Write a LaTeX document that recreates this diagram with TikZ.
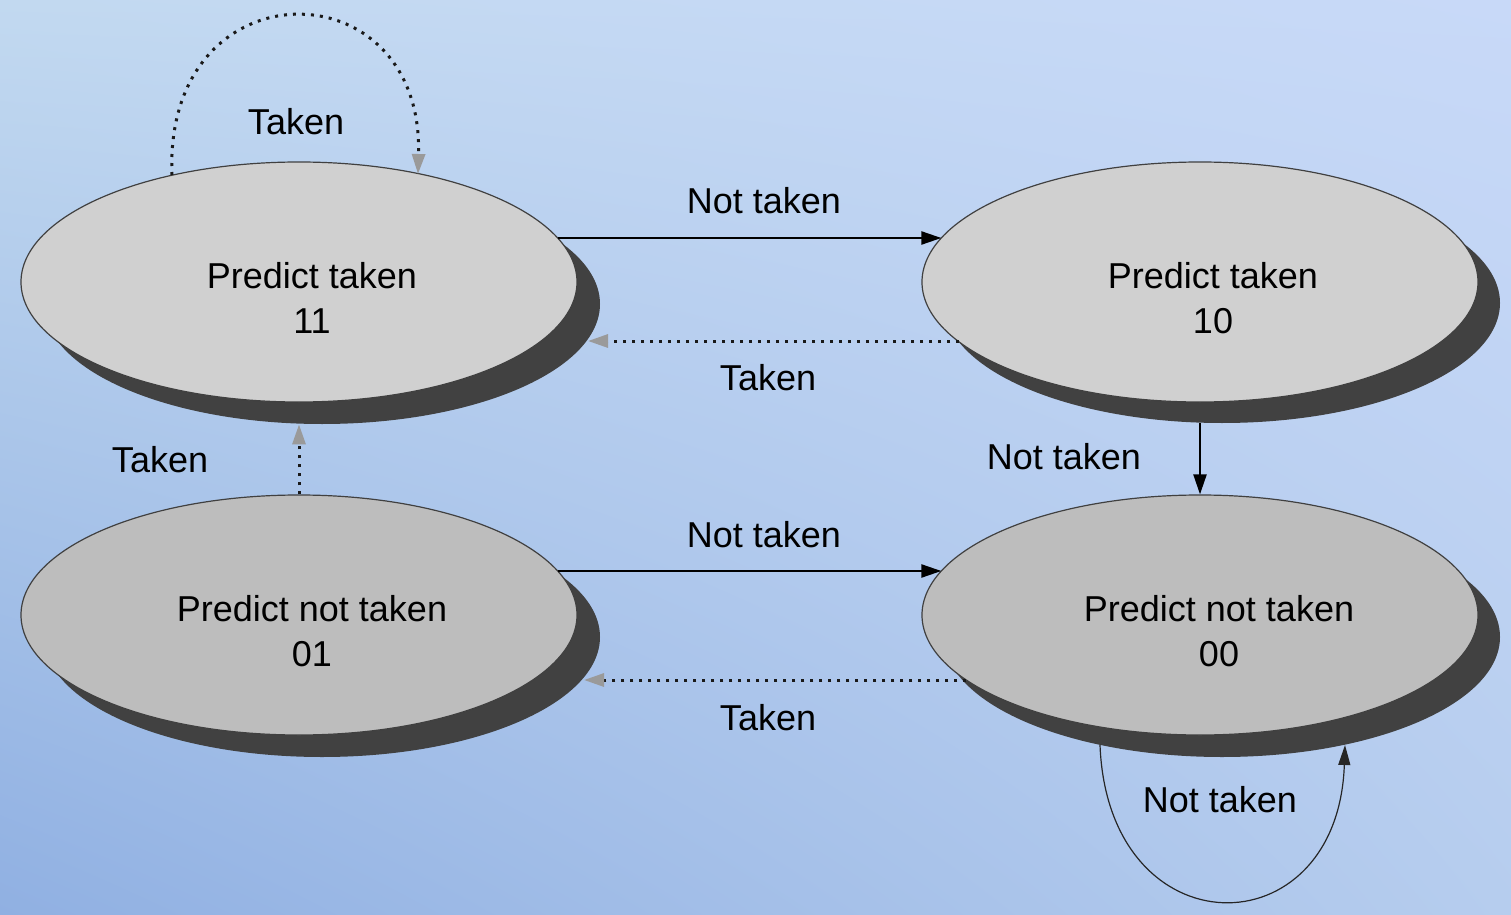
\documentclass[tikz,border=0pt]{standalone}
\usepackage{fontspec}
\setmainfont{Liberation Sans}
\usetikzlibrary{shapes.geometric,arrows.meta,calc,shadings}
\definecolor{bgA}{HTML}{C2D9F0}
\definecolor{bgB}{HTML}{C8D9F8}
\definecolor{bgC}{HTML}{90B0E2}
\definecolor{bgD}{HTML}{B6CDEE}
\definecolor{topfill}{HTML}{D0D0D0}
\definecolor{botfill}{HTML}{BDBDBD}
\definecolor{shadowgray}{HTML}{414141}
\definecolor{tipgray}{HTML}{9A9A9A}
\begin{document}
\begin{tikzpicture}[x=0.5pt,y=-0.5pt,
  ell/.style={ellipse, minimum width=278pt, minimum height=120pt, inner sep=0pt},
  state/.style={ell, draw=black!75, line width=0.6pt},
  topstate/.style={state, fill=topfill},
  botstate/.style={state, fill=botfill},
  shadowell/.style={ell, fill=shadowgray, draw=none},
  tin/.style={font=\fontsize{18}{22.5}\selectfont, align=center, inner sep=0pt, xshift=6.5pt, yshift=-8pt},
  lbl/.style={font=\fontsize{18}{22}\selectfont, inner sep=0pt},
  solidarr/.style={-{Triangle[length=10pt,width=6.5pt]}, line width=1.1pt, draw=black},
  thinarr/.style={-{Triangle[length=10pt,width=6pt]}, line width=0.6pt, draw=black!85},
  dotarr/.style={-{Triangle[length=10pt,width=6.5pt,color=tipgray]}, line width=1.5pt,
    dash pattern=on 1.5pt off 3pt, draw=black!90}
]
\useasboundingbox (0,0) rectangle (1511,915);
\shade[upper left=bgA, upper right=bgB, lower left=bgC, lower right=bgD] (0,0) rectangle (1511,915);

% shadows
\node[shadowell] (s11) at (322,304) {};
\node[shadowell] (s10) at (1222,303) {};
\node[shadowell] (s01) at (322,637) {};
\node[shadowell] (s00) at (1222,637) {};

% states
\node[topstate, label={[tin]center:Predict taken\\11}] (n11) at (299,282) {};
\node[topstate, label={[tin]center:Predict taken\\10}] (n10) at (1200,282) {};
\node[botstate, label={[tin]center:Predict not taken\\01}] (n01) at (299,615) {};
\node[botstate, label={[tin,xshift=3pt]center:Predict not taken\\00}] (n00) at (1200,615) {};

% connectors
\draw[dotarr] ($(n11.center)+(-127,-107)$) .. controls (163,-36) and (424,-36) .. ($(n11.center)+(119,-108)$);
\draw[solidarr] ($(n11.center)+(258.6,-44)$) -- ($(n10.center)+(-258.6,-44)$);
\draw[dotarr] ($(n10.center)+(-240.8,59)$) -- ($(s11.center)+(266,37)$);
\draw[dotarr] (n01.north) -- (n01.north |- s11.south);
\draw[solidarr] (n00.north |- s10.south) -- (n00.north);
\draw[solidarr] ($(n01.center)+(258.6,-44)$) -- ($(n00.center)+(-258.6,-44)$);
\draw[dotarr] ($(n00.center)+(-233.7,65)$) -- ($(s01.center)+(262,43)$);
\draw[thinarr] ($(s00.center)+(-122,108)$) .. controls (1108,952) and (1338,952) .. ($(s00.center)+(123,108)$);

% labels
\node[lbl] (l1) at (296,122) {Taken};
\node[lbl] (l2) at (764,201) {Not taken};
\node[lbl] (l3) at (768,378) {Taken};
\node[lbl] (l4) at (160,460) {Taken};
\node[lbl] (l5) at (1064,457) {Not taken};
\node[lbl] (l6) at (764,535) {Not taken};
\node[lbl] (l7) at (768,718) {Taken};
\node[lbl] (l8) at (1220,800) {Not taken};
\end{tikzpicture}
\end{document}
